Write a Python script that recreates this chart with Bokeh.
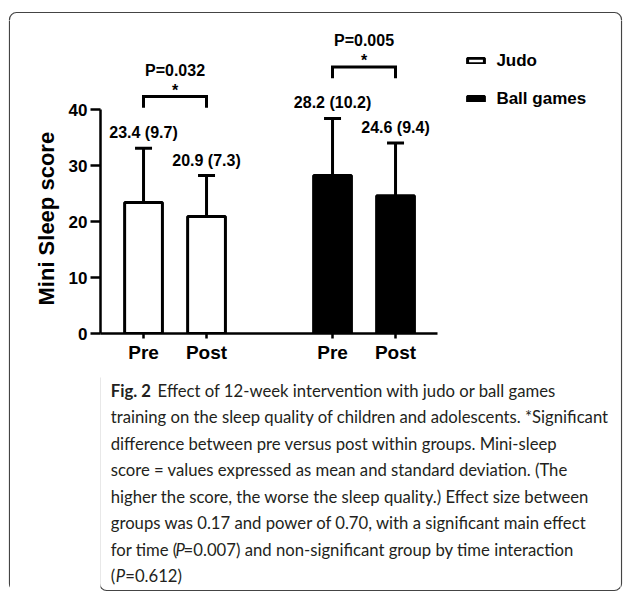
from bokeh.plotting import figure
from bokeh.layouts import column, row
from bokeh.models import (Range1d, FixedTicker, Whisker, TeeHead, ColumnDataSource,
                          Legend, LegendItem, Label, LabelSet, Title)
from bokeh.core.properties import value
from bokeh.embed import file_html
from bokeh.resources import INLINE

# ---------------- data ----------------
groups = ["Judo", "Ball games"]
times = ["Pre", "Post"]
judo_mean = [23.4, 20.9]
judo_sd = [9.7, 7.3]
ball_mean = [28.2, 24.6]
ball_sd = [10.2, 9.4]
p_labels = ["P=0.032", "P=0.005"]
sig_marks = ["*", "*"]
y_ticks = [0, 10, 20, 30, 40]
y_axis_title = "Mini Sleep score"

caption_fig = "Fig. 2"
caption_first = "Effect of 12-week intervention with judo or ball games"
caption_lines = [
    "training on the sleep quality of children and adolescents. *Significant",
    "difference between pre versus post within groups. Mini-sleep",
    "score = values expressed as mean and standard deviation. (The",
    "higher the score, the worse the sleep quality.) Effect size between",
    "groups was 0.17 and power of 0.70, with a significant main effect",
]
caption_line7 = ["for time (", "P", "=0.007) and non-significant group by time interaction"]
caption_line8 = ["(", "P", "=0.612)"]

# ---------------- layout / style (page pixels) ----------------
PAGE_W, PAGE_H = 629, 592
TOP_H = 20                    # strip holding the top edge of the rounded frame
LEFT_W, RIGHT_W = 10, 9       # strips holding the side edges
MID_W = PAGE_W - LEFT_W - RIGHT_W
CHART_H = 357
CAP_H = PAGE_H - TOP_H - CHART_H
BOX = dict(left=9, right=621, top=12, bottom=590, radius=7)

FRAME_LEFT_PAGE, FRAME_BOTTOM_PAGE = 100, 333
BORDER_LEFT = FRAME_LEFT_PAGE - LEFT_W
BORDER_BOTTOM = TOP_H + CHART_H - FRAME_BOTTOM_PAGE
PX_X, PX_Y = 63.0, 5.6
FRAME_W = MID_W - BORDER_LEFT
FRAME_H = CHART_H - BORDER_BOTTOM
X_START = -0.683
CHART_FONT = "Liberation Sans"
CAP_FONT = "Lato"
CAP_SIZE = "16.7px"
CAP_COLOR = "#231f20"
FRAME_COLOR = "#444444"


def page_fig(x0, y0, w, h):
    """A plain figure whose data coordinates equal page pixels (y downwards)."""
    f = figure(width=w, height=h, output_backend="svg", toolbar_location=None,
               x_range=Range1d(x0, x0 + w), y_range=Range1d(y0 + h, y0),
               x_axis_location=None, y_axis_location=None, min_border=0,
               outline_line_color=None, background_fill_color="white",
               border_fill_color="white")
    f.grid.visible = False
    f.quad(left=[BOX["left"]], right=[BOX["right"]], top=[BOX["top"]], bottom=[BOX["bottom"]],
           border_radius=BOX["radius"], fill_color=None, line_color=FRAME_COLOR,
           line_width=1.2)
    return f


# ---------------- chart ----------------
p = figure(width=MID_W, height=CHART_H, output_backend="svg", toolbar_location=None,
           x_range=Range1d(X_START, X_START + FRAME_W / PX_X),
           y_range=Range1d(0, FRAME_H / PX_Y),
           min_border=0, min_border_left=BORDER_LEFT, min_border_bottom=BORDER_BOTTOM,
           min_border_top=0, min_border_right=0,
           outline_line_color=None, background_fill_color="white", border_fill_color="white")
p.grid.visible = False

yax = p.yaxis[0]
yax.bounds = (y_ticks[0], y_ticks[-1])
yax.ticker = FixedTicker(ticks=y_ticks)
yax.axis_line_width = 2.5
yax.major_tick_line_width = 2.5
yax.major_tick_out = 10
yax.major_tick_in = 0
yax.minor_tick_out = 0
yax.minor_tick_in = 0
yax.major_label_standoff = 3
yax.major_label_text_font = CHART_FONT
yax.major_label_text_font_style = "bold"
yax.major_label_text_font_size = "17px"
yax.major_label_text_color = "black"

# axis title centred on the 0-40 axis span
p.add_layout(Title(text=y_axis_title, align="left", offset=28, standoff=14,
                   vertical_align="bottom", text_font=CHART_FONT, text_font_style="bold",
                   text_font_size="22px", text_color="black"), "left")

positions = [g * 3 + t for g in range(len(groups)) for t in range(len(times))]
xax = p.xaxis[0]
xax.bounds = (X_START, positions[-1] + 0.67)
xax.ticker = FixedTicker(ticks=positions)
xax.major_label_overrides = {pos: times[i % len(times)] for i, pos in enumerate(positions)}
xax.axis_line_width = 2.5
xax.major_tick_line_width = 2.5
xax.major_tick_out = 5
xax.major_tick_in = 0
xax.minor_tick_out = 0
xax.minor_tick_in = 0
xax.major_label_standoff = 3
xax.major_label_text_font = CHART_FONT
xax.major_label_text_font_style = "bold"
xax.major_label_text_font_size = "19px"
xax.major_label_text_color = "black"

renderers = []
for g, (means, sds, fill) in enumerate([(judo_mean, judo_sd, "white"),
                                         (ball_mean, ball_sd, "black")]):
    xs = [g * 3 + t for t in range(len(times))]
    uppers = [m + s for m, s in zip(means, sds)]
    src = ColumnDataSource(dict(x=xs, top=means, upper=uppers,
                                label=[f"{m:.1f} ({s:.1f})" for m, s in zip(means, sds)]))
    r = p.vbar(x="x", top="top", bottom=0, width=0.6, source=src,
               fill_color=fill, line_color="black", line_width=3)
    renderers.append(r)
    p.add_layout(Whisker(source=src, base="x", lower="top", upper="upper",
                         line_width=3, line_color="black",
                         upper_head=TeeHead(size=17, line_width=3, line_color="black"),
                         lower_head=None))
    p.add_layout(LabelSet(source=src, x="x", y="upper", text="label", y_offset=10,
                          text_align="center", text_baseline="alphabetic",
                          text_font=value(CHART_FONT), text_font_style="bold",
                          text_font_size="16px", text_color="black"))
    yb = max(uppers) + 9.2
    p.line(x=[xs[0], xs[0], xs[1], xs[1]], y=[yb - 2.0, yb, yb, yb - 2.0],
           line_width=3, line_color="black", line_join="miter")
    xm = (xs[0] + xs[1]) / 2
    p.add_layout(Label(x=xm, y=yb, y_offset=6, text=sig_marks[g], text_align="center",
                       text_baseline="alphabetic", text_font=CHART_FONT,
                       text_font_style="bold", text_font_size="16px", text_color="black"))
    p.add_layout(Label(x=xm, y=yb, y_offset=26, text=p_labels[g], text_align="center",
                       text_baseline="alphabetic", text_font=CHART_FONT,
                       text_font_style="bold", text_font_size="16px", text_color="black"))

legend = Legend(items=[LegendItem(label=groups[i], renderers=[renderers[i]]) for i in range(2)],
                location=(365.4, 224.2), orientation="vertical",
                glyph_width=21, glyph_height=7, label_standoff=10, spacing=18,
                padding=0, margin=0, border_line_color=None, background_fill_alpha=0,
                label_text_font=CHART_FONT, label_text_font_style="bold",
                label_text_font_size="17px", label_text_color="black")
p.add_layout(legend)

# ---------------- caption ----------------
c = page_fig(LEFT_W, TOP_H + CHART_H, MID_W, CAP_H)
CX = 22
ly = [390, 416.5, 443, 469.5, 496, 522.5, 549, 575.5]
pieces = [(CX, ly[0], caption_fig, "bold"), (CX + 55, ly[0], caption_first, "normal")]
pieces += [(CX, ly[i + 1], t, "normal") for i, t in enumerate(caption_lines)]
pieces += [(CX, ly[6], caption_line7[0], "normal"), (CX + 76, ly[6], caption_line7[1], "italic"),
           (CX + 85.5, ly[6], caption_line7[2], "normal")]
pieces += [(CX, ly[7], caption_line8[0], "normal"), (CX + 6, ly[7], caption_line8[1], "italic"),
           (CX + 17, ly[7], caption_line8[2], "normal")]
for style in ["normal", "bold", "italic"]:
    sel = [pc for pc in pieces if pc[3] == style]
    c.text(x=[pc[0] for pc in sel], y=[pc[1] for pc in sel], text=[pc[2] for pc in sel],
           text_font=value(CAP_FONT), text_font_style=style, text_font_size=CAP_SIZE,
           text_color=CAP_COLOR, text_baseline="middle", text_align="left")

# ---------------- strips carrying the rounded outer frame ----------------
top_strip = page_fig(0, 0, PAGE_W, TOP_H)
left_strip = page_fig(0, TOP_H, LEFT_W, PAGE_H - TOP_H)
right_strip = page_fig(LEFT_W + MID_W, TOP_H, RIGHT_W, PAGE_H - TOP_H)

layout = column(top_strip,
                row(left_strip, column(p, c, spacing=0), right_strip, spacing=0),
                spacing=0)

open("out.html", "w").write(file_html(layout, INLINE))
